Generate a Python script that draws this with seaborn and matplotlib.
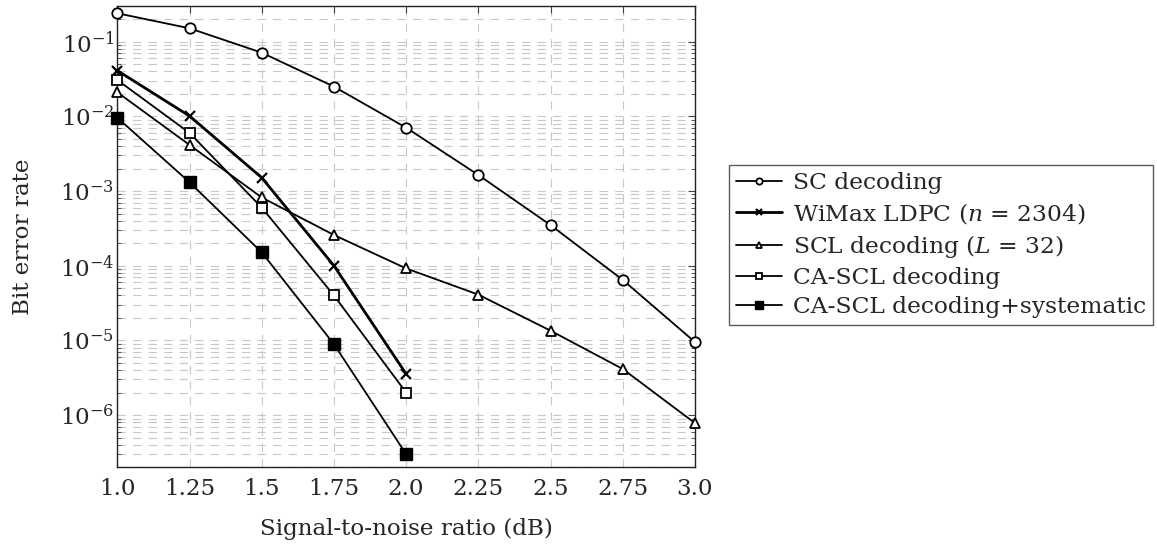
import numpy as np
import pandas as pd
import matplotlib
matplotlib.use("Agg")
import matplotlib.pyplot as plt
from matplotlib.lines import Line2D
from matplotlib.ticker import LogLocator, FixedLocator, FixedFormatter, NullFormatter
import seaborn as sns

# ---- data ----
snr = [1.0, 1.25, 1.5, 1.75, 2.0, 2.25, 2.5, 2.75, 3.0]
snr_short = [1.0, 1.25, 1.5, 1.75, 2.0]
sc_ber = [0.24, 0.151, 0.0712, 0.025, 0.00705, 0.00164, 3.5e-4, 6.45e-5, 9.5e-6]
wimax_ber = [0.041, 0.0101, 1.51e-3, 1.0e-4, 3.55e-6]
scl_ber = [0.021, 4.14e-3, 8.2e-4, 2.58e-4, 9.2e-5, 4.1e-5, 1.35e-5, 4.14e-6, 7.8e-7]
cascl_ber = [0.0307, 6.0e-3, 6.0e-4, 4.0e-5, 2.0e-6]
cascl_sys_ber = [9.6e-3, 1.31e-3, 1.51e-4, 8.9e-6, 3.0e-7]
xtick_vals = [1.0, 1.25, 1.5, 1.75, 2.0, 2.25, 2.5, 2.75, 3.0]
xtick_labels = ["1.0", "1.25", "1.5", "1.75", "2.0", "2.25", "2.5", "2.75", "3.0"]
labels = ["SC decoding", r"WiMax LDPC ($n$ = 2304)", r"SCL decoding ($L$ = 32)",
          "CA-SCL decoding", "CA-SCL decoding+systematic"]

sns.set_theme(style="white")
plt.rcParams["font.family"] = ["DejaVu Serif"]
plt.rcParams["mathtext.fontset"] = "custom"
plt.rcParams["mathtext.rm"] = "DejaVu Serif"
plt.rcParams["mathtext.it"] = "DejaVu Serif:italic"
plt.rcParams["mathtext.bf"] = "DejaVu Serif:bold"

FS = 16.6
LFS = 16.8
W, H = 1157, 549
fig = plt.figure(figsize=(W / 100, H / 100), dpi=100)
L, R, T, B = 117.3, 695.0, 5.7, 467.3
ax = fig.add_axes([L / W, 1 - B / H, (R - L) / W, (B - T) / H])

series = [
    (snr, sc_ber, dict(marker="o", markersize=7.5, markerfacecolor="white", markeredgewidth=1.3, linewidth=1.3)),
    (snr_short, wimax_ber, dict(marker="x", markersize=6.5, markeredgewidth=1.6, linewidth=2.0)),
    (snr, scl_ber, dict(marker="^", markersize=7, markerfacecolor="white", markeredgewidth=1.3, linewidth=1.3)),
    (snr_short, cascl_ber, dict(marker="s", markersize=7.5, markerfacecolor="white", markeredgewidth=1.3, linewidth=1.3)),
    (snr_short, cascl_sys_ber, dict(marker="s", markersize=8.5, markerfacecolor="black", markeredgewidth=1.0, linewidth=1.3)),
]
for (xs, ys, st), lab in zip(series, labels):
    df = pd.DataFrame({"snr": xs, "ber": ys})
    sns.lineplot(data=df, x="snr", y="ber", ax=ax, color="black", markeredgecolor="black",
                 legend=False, zorder=3, clip_on=False, **st)

ax.set_yscale("log")
ax.set_xlim(1.0, 3.0)
ax.set_ylim(2.0e-7, 0.303)

ax.xaxis.set_major_locator(FixedLocator(xtick_vals))
ax.xaxis.set_major_formatter(FixedFormatter(xtick_labels))
ax.yaxis.set_major_locator(FixedLocator([1e-6, 1e-5, 1e-4, 1e-3, 1e-2, 1e-1]))
ax.yaxis.set_minor_locator(LogLocator(base=10, subs=np.arange(2, 10), numticks=20))
ax.yaxis.set_minor_formatter(NullFormatter())

grid_kw = dict(color="#c8c8c8", linewidth=0.8, linestyle=(0, (7.5, 6.5)))
ax.grid(True, which="major", axis="both", **grid_kw)
ax.grid(True, which="minor", axis="y", **grid_kw)
ax.set_axisbelow(True)

ax.tick_params(axis="both", which="major", direction="in", length=5, width=0.8,
               color="#444444", top=True, right=True, labelsize=FS)
ax.tick_params(axis="x", which="major", pad=8)
ax.tick_params(axis="y", which="major", pad=2)
ax.tick_params(axis="y", which="minor", direction="in", length=3, width=0.6,
               color="#444444", left=True, right=True)
for sp in ax.spines.values():
    sp.set_color("#222222")
    sp.set_linewidth(1.0)

ax.set_xlabel("Signal-to-noise ratio (dB)", fontsize=FS)
ax.set_ylabel("Bit error rate", fontsize=FS)
ax.xaxis.set_label_coords(0.5, (B - 518) / (B - T))
ax.yaxis.set_label_coords((34 - L) / (R - L), 0.5)

handles = []
for (xs, ys, st), lab in zip(series, labels):
    hst = dict(st)
    hst["markersize"] = st["markersize"] * 0.6
    handles.append(Line2D([], [], color="black", markeredgecolor="black", label=lab, **hst))
leg = fig.legend(handles=handles, loc="upper left", bbox_to_anchor=(729 / W, 1 - 165 / H),
                 fontsize=LFS, frameon=True, fancybox=False, edgecolor="#333333",
                 handlelength=1.95, handletextpad=0.5, labelspacing=0.3,
                 borderpad=0.3, borderaxespad=0.0)
leg.get_frame().set_linewidth(1.0)

fig.savefig("out.png", dpi=100)
